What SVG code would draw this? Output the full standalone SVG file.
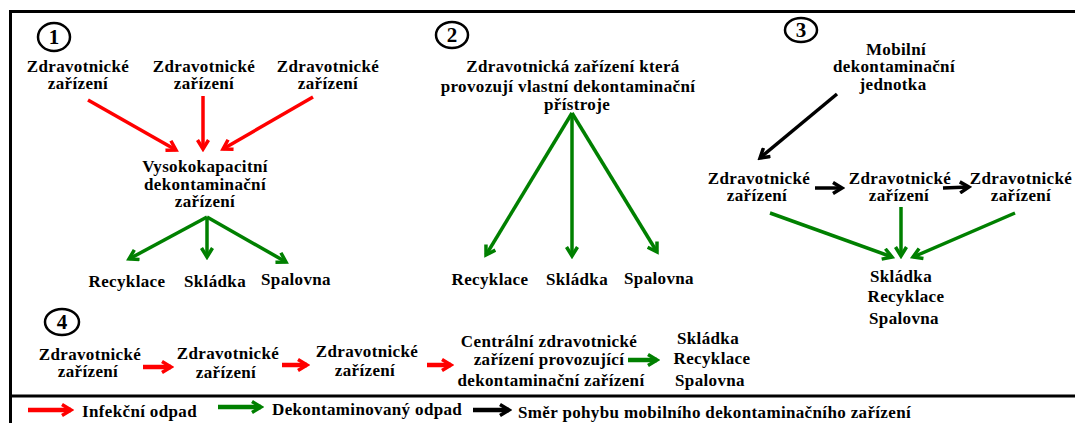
<svg xmlns="http://www.w3.org/2000/svg" width="1075" height="423" viewBox="0 0 1075 423">
<style>
text{font-family:"Liberation Serif","Times New Roman",serif;font-weight:bold;font-size:17px;letter-spacing:0.35px;fill:#000;text-anchor:middle}
.s{text-anchor:start}
.num{font-size:21px;letter-spacing:0}
.circ{fill:none;stroke:#000;stroke-width:2.5}
.r{stroke:#ff0000;stroke-width:3.5;fill:none}
.g{stroke:#008000;stroke-width:3.5;fill:none}
.k{stroke:#000;stroke-width:3.5;fill:none}
.thick{stroke-width:4.5}
.frame{fill:none;stroke:#000;stroke-width:3}
</style>
<defs>
<marker id="mr" viewBox="0 0 14 14" markerWidth="14" markerHeight="14" refX="11" refY="7" orient="auto" markerUnits="userSpaceOnUse"><path d="M2,1.5 L11,7 L2,12.5" fill="none" stroke="#ff0000" stroke-width="3.5"/></marker>
<marker id="mg" viewBox="0 0 14 14" markerWidth="14" markerHeight="14" refX="11" refY="7" orient="auto" markerUnits="userSpaceOnUse"><path d="M2,1.5 L11,7 L2,12.5" fill="none" stroke="#008000" stroke-width="3.5"/></marker>
<marker id="mk" viewBox="0 0 14 14" markerWidth="14" markerHeight="14" refX="11" refY="7" orient="auto" markerUnits="userSpaceOnUse"><path d="M2,1.5 L11,7 L2,12.5" fill="none" stroke="#000" stroke-width="3.5"/></marker>
</defs>
<rect width="1075" height="423" fill="#fff"/>
<g id="frame">
<path class="frame" d="M1080,11.5 H10.5 V430"/>
<line class="frame" x1="10" y1="396" x2="1080" y2="396"/>
</g>
<g id="connectors">
<line class="r" x1="88" y1="100" x2="176" y2="150" marker-end="url(#mr)"/>
<line class="r" x1="203" y1="96" x2="203" y2="149" marker-end="url(#mr)"/>
<line class="r" x1="313" y1="97" x2="223" y2="149" marker-end="url(#mr)"/>
<line class="g" x1="207" y1="217" x2="129" y2="259" marker-end="url(#mg)"/>
<line class="g" x1="207" y1="217" x2="207" y2="257" marker-end="url(#mg)"/>
<line class="g" x1="207" y1="217" x2="286" y2="262" marker-end="url(#mg)"/>
<line class="g" x1="572" y1="113" x2="486" y2="255" marker-end="url(#mg)"/>
<line class="g" x1="572" y1="113" x2="572" y2="256" marker-end="url(#mg)"/>
<line class="g" x1="572" y1="113" x2="657" y2="252" marker-end="url(#mg)"/>
<line class="k" x1="837" y1="94" x2="760" y2="158" marker-end="url(#mk)"/>
<line class="k" x1="815" y1="188" x2="842" y2="188" marker-end="url(#mk)"/>
<line class="k" x1="943" y1="188" x2="969" y2="187" marker-end="url(#mk)"/>
<line class="g" x1="770" y1="213" x2="892" y2="257" marker-end="url(#mg)"/>
<line class="g" x1="901" y1="207" x2="901" y2="256" marker-end="url(#mg)"/>
<line class="g" x1="1015" y1="213" x2="913" y2="257" marker-end="url(#mg)"/>
<line class="r thick" x1="143" y1="367" x2="171" y2="367" marker-end="url(#mr)"/>
<line class="r thick" x1="282" y1="365" x2="307" y2="365" marker-end="url(#mr)"/>
<line class="r thick" x1="427" y1="365" x2="451" y2="365" marker-end="url(#mr)"/>
<line class="g thick" x1="628" y1="360" x2="657" y2="360" marker-end="url(#mg)"/>
</g>
<g id="legend">
<line class="r thick" x1="28" y1="410" x2="71" y2="410" marker-end="url(#mr)"/>
<text class="s" x="82" y="417">Infekční odpad</text>
<line class="g thick" x1="218" y1="407" x2="261" y2="407" marker-end="url(#mg)"/>
<text class="s" x="272" y="415">Dekontaminovaný odpad</text>
<line class="k thick" x1="473" y1="410" x2="509" y2="410" marker-end="url(#mk)"/>
<text class="s" x="518" y="418">Směr pohybu mobilního dekontaminačního zařízení</text>
</g>
<g id="label1"><ellipse class="circ" cx="54" cy="37" rx="16" ry="14"/><text class="num" x="54" y="44">1</text></g>
<g id="label2"><ellipse class="circ" cx="452" cy="35" rx="16" ry="13"/><text class="num" x="452" y="42">2</text></g>
<g id="label3"><ellipse class="circ" cx="801" cy="30" rx="16" ry="12"/><text class="num" x="801" y="37">3</text></g>
<g id="label4"><ellipse class="circ" cx="62" cy="322" rx="17" ry="13"/><text class="num" x="62" y="329">4</text></g>
<g id="s1-zz1"><text x="78" y="72">Zdravotnické</text><text x="78" y="89">zařízení</text></g>
<g id="s1-zz2"><text x="204" y="72">Zdravotnické</text><text x="204" y="89">zařízení</text></g>
<g id="s1-zz3"><text x="328" y="72">Zdravotnické</text><text x="328" y="89">zařízení</text></g>
<g id="s1-vdz"><text x="205" y="172">Vysokokapacitní</text><text x="205" y="190">dekontaminační</text><text x="205" y="207">zařízení</text></g>
<g id="s1-recyklace"><text x="127" y="287">Recyklace</text></g>
<g id="s1-skladka"><text x="215" y="287">Skládka</text></g>
<g id="s1-spalovna"><text x="296" y="285">Spalovna</text></g>
<g id="s2-zz"><text x="573" y="72">Zdravotnická zařízení která</text><text x="568" y="92">provozují vlastní dekontaminační</text><text x="577" y="110">přístroje</text></g>
<g id="s2-recyklace"><text x="490" y="285">Recyklace</text></g>
<g id="s2-skladka"><text x="577" y="285">Skládka</text></g>
<g id="s2-spalovna"><text x="659" y="284">Spalovna</text></g>
<g id="s3-mdj"><text x="896" y="55">Mobilní</text><text x="894" y="72">dekontaminační</text><text x="893" y="90">jednotka</text></g>
<g id="s3-zz1"><text x="759" y="184">Zdravotnické</text><text x="757" y="201">zařízení</text></g>
<g id="s3-zz2"><text x="900" y="184">Zdravotnické</text><text x="899" y="201">zařízení</text></g>
<g id="s3-zz3"><text x="1021" y="184">Zdravotnické</text><text x="1021" y="201">zařízení</text></g>
<g id="s3-out"><text x="901" y="282">Skládka</text><text x="906" y="302">Recyklace</text><text x="904" y="324">Spalovna</text></g>
<g id="s4-zz1"><text x="90" y="360">Zdravotnické</text><text x="88" y="377">zařízení</text></g>
<g id="s4-zz2"><text x="228" y="359">Zdravotnické</text><text x="226" y="378">zařízení</text></g>
<g id="s4-zz3"><text x="367" y="357">Zdravotnické</text><text x="365" y="376">zařízení</text></g>
<g id="s4-central"><text x="549" y="347">Centrální zdravotnické</text><text x="549" y="365">zařízení provozující</text><text x="551" y="386">dekontaminační zařízení</text></g>
<g id="s4-out"><text x="708" y="344">Skládka</text><text x="712" y="364">Recyklace</text><text x="710" y="386">Spalovna</text></g>
</svg>
